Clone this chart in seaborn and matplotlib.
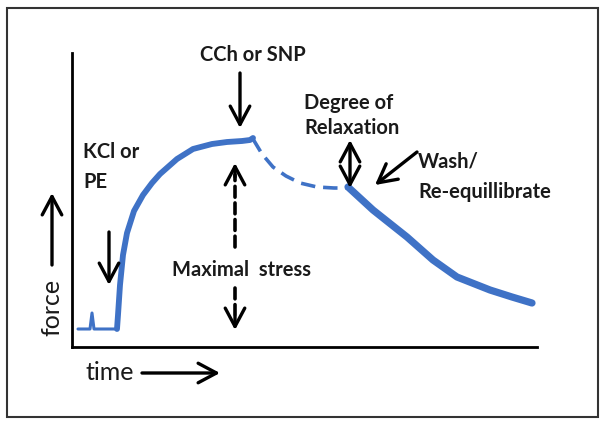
import matplotlib
matplotlib.use('Agg')
import matplotlib.pyplot as plt
import seaborn as sns
import pandas as pd
from matplotlib.patches import Rectangle

# force trace (time / force in arbitrary units)
base_time = [6, 18, 20, 22, 43, 45]
base_force = [18, 18, 34, 18, 18, 18]

rise_time = [45, 46, 48, 51, 55, 62, 71, 80, 88, 105, 121, 140, 155, 170, 178, 181]
rise_force = [18, 32, 62, 92, 114, 136, 152, 164, 173, 188, 198, 203, 205, 206, 207, 209]

relax_time = [181, 190, 201, 214, 228, 245, 262, 280]
relax_force = [208, 193, 180, 171, 164, 160, 159, 159]

wash_time = [276, 301, 335, 361, 385, 418, 440, 460]
wash_force = [160, 137, 110, 87, 70, 57, 50, 44]

blue = '#3F72C6'
label_font = ['Lato', 'DejaVu Sans']

sns.set_style('white')
plt.rcParams['font.family'] = label_font

fig = plt.figure(figsize=(6.04, 4.25), dpi=100)
ax = fig.add_axes([72 / 604, 78 / 425, 465 / 604, 294 / 425])

sns.lineplot(x=base_time, y=base_force, ax=ax, color=blue, lw=2.2, sort=False)
sns.lineplot(x=rise_time, y=rise_force, ax=ax, color=blue, lw=4.2, sort=False)
sns.lineplot(x=relax_time, y=relax_force, ax=ax, color=blue, lw=2.6, sort=False)
ax.lines[-1].set_dashes((4, 2.2))
sns.lineplot(x=wash_time, y=wash_force, ax=ax, color=blue, lw=5.2, sort=False)

ax.set_xlim(0, 465)
ax.set_ylim(0, 294)
ax.set_xticks([])
ax.set_yticks([])
ax.set_xlabel('')
ax.set_ylabel('')
for side in ['top', 'right']:
    ax.spines[side].set_visible(False)
for side in ['left', 'bottom']:
    ax.spines[side].set_color('black')
    ax.spines[side].set_linewidth(2)

arrow = dict(arrowstyle='->,head_length=0.6,head_width=0.32', color='black', lw=2.4,
             mutation_scale=22, shrinkA=0, shrinkB=0)
dbl = dict(arrowstyle='<->,head_length=0.6,head_width=0.32', color='black', lw=2.4,
           mutation_scale=22, shrinkA=0, shrinkB=0)
shaft = dict(arrowstyle='-', color='black', lw=2.6, linestyle=(0, (3, 1.6)),
             shrinkA=0, shrinkB=0)
tfont = dict(fontsize=14.5, fontweight='bold', color='#1a1a1a')

# KCl / PE
ax.annotate('', xy=(37, 62), xytext=(37, 115), arrowprops=arrow, annotation_clip=False)
ax.text(11, 195, 'KCl or', ha='left', va='center', **tfont)
ax.text(11, 165, 'PE', ha='left', va='center', **tfont)

# CCh or SNP
ax.annotate('', xy=(168, 219), xytext=(168, 274), arrowprops=arrow, annotation_clip=False)
ax.text(181, 292, 'CCh or SNP', ha='center', va='center', **tfont)

# maximal stress
ax.annotate('', xy=(163, 172), xytext=(163, 100), arrowprops=shaft)
ax.annotate('', xy=(163, 184), xytext=(163, 170), arrowprops=arrow)
ax.text(169, 77, 'Maximal  stress', ha='center', va='center', **tfont)
ax.annotate('', xy=(163, 26), xytext=(163, 59), arrowprops=shaft)
ax.annotate('', xy=(163, 17), xytext=(163, 30), arrowprops=arrow)

# degree of relaxation
ax.annotate('', xy=(278, 159), xytext=(278, 207), arrowprops=dbl)
ax.text(232, 244, 'Degree of', ha='left', va='center', **tfont)
ax.text(232, 219, 'Relaxation', ha='left', va='center', **tfont)

# wash
ax.annotate('', xy=(303, 162), xytext=(345, 195), arrowprops=arrow, annotation_clip=False)
ax.text(346, 185, 'Wash/', ha='left', va='center', **tfont)
ax.text(346, 155, 'Re-equillibrate', ha='left', va='center', **tfont)

# axis "labels" with arrows
ax.text(13, -26, 'time', ha='left', va='center', fontsize=18, color='#1a1a1a')
ax.annotate('', xy=(148, -26), xytext=(70, -26), arrowprops=arrow, annotation_clip=False)
ax.text(-20, 40, 'force', ha='center', va='center', rotation=90, fontsize=18, color='#1a1a1a')
ax.annotate('', xy=(-20, 154), xytext=(-20, 82), arrowprops=arrow, annotation_clip=False)

# frame around the whole figure
fig.patches.append(Rectangle((7 / 604, 8 / 425), 591 / 604, 409 / 425, transform=fig.transFigure,
                             fill=False, ec='#333333', lw=1.5))

fig.savefig('out.png', dpi=100)
